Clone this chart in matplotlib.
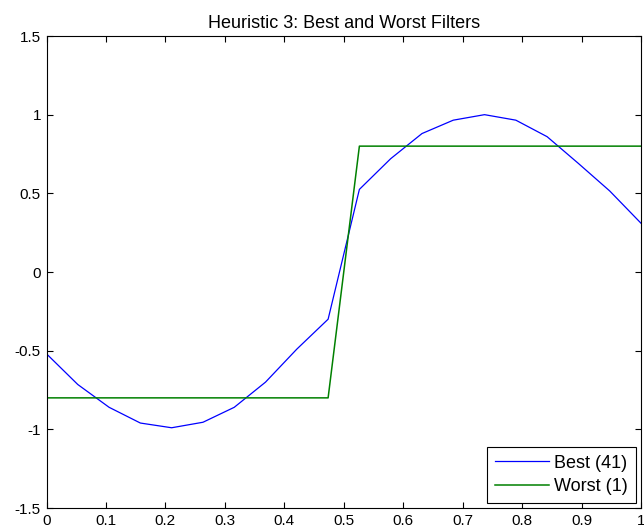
import matplotlib
matplotlib.use("Agg")
import matplotlib.pyplot as plt
import numpy as np

x = [0.0, 0.0526, 0.1053, 0.1579, 0.2105, 0.2632, 0.3158, 0.3684, 0.4211, 0.4737,
     0.5263, 0.5789, 0.6316, 0.6842, 0.7368, 0.7895, 0.8421, 0.8947, 0.9474, 1.0]
best = [-0.52, -0.715, -0.86, -0.96, -0.99, -0.955, -0.86, -0.70, -0.49, -0.30,
        0.525, 0.72, 0.88, 0.965, 1.0, 0.965, 0.86, 0.69, 0.515, 0.31]
worst = [-0.8, -0.8, -0.8, -0.8, -0.8, -0.8, -0.8, -0.8, -0.8, -0.8,
         0.8, 0.8, 0.8, 0.8, 0.8, 0.8, 0.8, 0.8, 0.8, 0.8]
labels = ["Best (41)", "Worst (1)"]
title = "Heuristic 3: Best and Worst Filters"
xticks = [0, 0.1, 0.2, 0.3, 0.4, 0.5, 0.6, 0.7, 0.8, 0.9, 1]
xticklabels = ["0", "0.1", "0.2", "0.3", "0.4", "0.5", "0.6", "0.7", "0.8", "0.9", "1"]
yticks = [-1.5, -1, -0.5, 0, 0.5, 1, 1.5]
yticklabels = ["-1.5", "-1", "-0.5", "0", "0.5", "1", "1.5"]

plt.rcParams['font.family'] = ['Liberation Sans', 'DejaVu Sans']
fig = plt.figure(figsize=(6.44, 5.31), dpi=100)
ax = fig.add_axes([46.5/644, 23/531, (641-46.5)/644, (508-36)/531])
ax.plot(x, best, color=(0, 0, 1), lw=0.9, label=labels[0])
ax.plot(x, worst, color=(0, 0.5, 0), lw=1.1, label=labels[1])
ax.set_xlim(0, 1)
ax.set_ylim(-1.5, 1.5)
ax.set_xticks(xticks)
ax.set_xticklabels(xticklabels)
ax.set_yticks(yticks)
ax.set_yticklabels(yticklabels)
ax.tick_params(direction='in', top=True, right=True, length=4.5, width=0.8,
               labelsize=11, pad=4)
for s in ax.spines.values():
    s.set_linewidth(0.8)
ax.set_title(title, fontsize=13, pad=6)
leg = ax.legend(loc='lower right', fontsize=13, fancybox=False, framealpha=1,
                edgecolor='black', borderaxespad=0.3, handlelength=3.0,
                handletextpad=0.3, borderpad=0.42, labelspacing=0.35)
leg.get_frame().set_linewidth(0.8)
fig.savefig("out.png", dpi=100)
